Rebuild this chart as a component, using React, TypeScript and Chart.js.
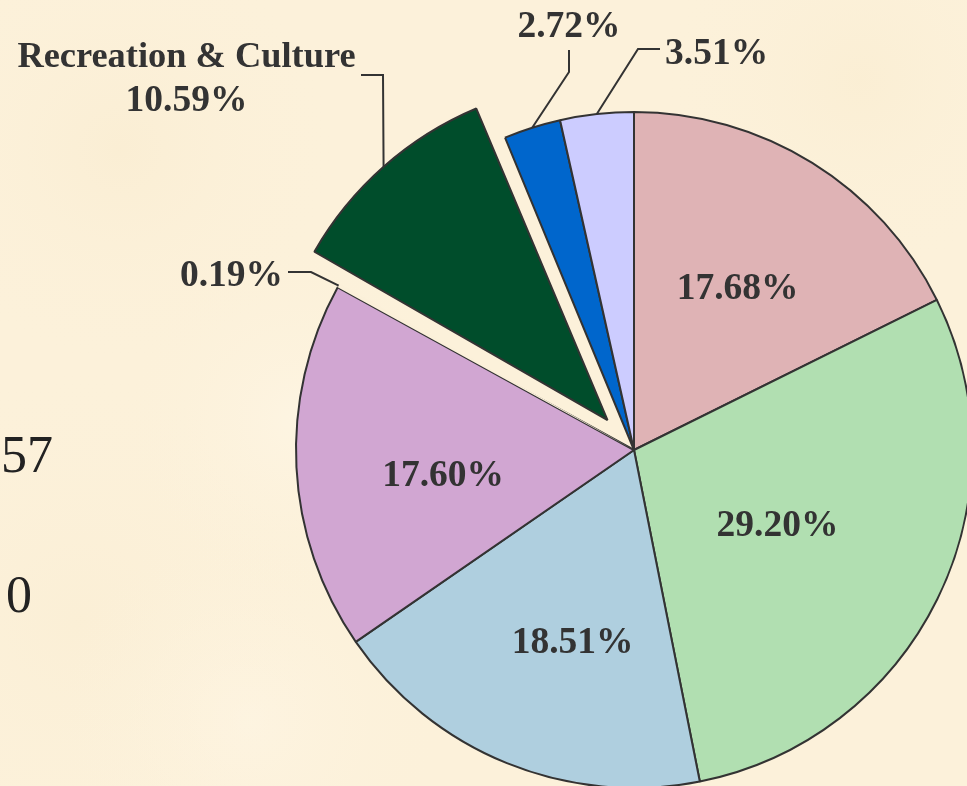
import React, { useEffect, useRef } from "react";
import { Chart, registerables } from "chart.js";

Chart.register(...registerables);

// ---- data ----
const categories = [
  "Category 1",
  "Category 2",
  "Category 3",
  "Category 4",
  "Category 5",
  "Recreation & Culture",
  "Category 7",
  "Category 8",
];
const values = [17.68, 29.2, 18.51, 17.6, 0.19, 10.59, 2.72, 3.51];
const valueLabels = ["17.68%", "29.20%", "18.51%", "17.60%", "0.19%", "10.59%", "2.72%", "3.51%"];
const sliceColors = ["#DFB3B5", "#B1DFB1", "#AFCFDF", "#D1A6D2", "#FBF0D9", "#004D2B", "#0066CC", "#CCCCFF"];
const sliceBorders = [2, 2, 2, 2, 0, 2, 2, 2];
const explodePx = [0, 0, 0, 0, 0, 40, 0, 0];
const sideTexts = ["57", "0"];

// ---- layout / style ----
const W = 967;
const H = 786;
const PIE_RADIUS = 338;
const TEXT_COLOR = "#333333";
const NUM_FONT = 'bold 37.5px "Liberation Serif", "Times New Roman", serif';
const NAME_FONT = 'bold 36.4px "Liberation Serif", "Times New Roman", serif';
const SIDE_FONT = '52px "Liberation Serif", "Times New Roman", serif';

// inside labels: slice index, angle (deg clockwise from top), fraction of radius
const insideLabels = [
  { i: 0, deg: 32.3, frac: 0.574 },
  { i: 1, deg: 117.1, frac: 0.477 },
  { i: 2, deg: 197.9, frac: 0.591 },
  { i: 3, deg: 263.1, frac: 0.569 },
];

// outside callouts: leader elbows and text anchors (text y = visual middle)
const callouts = [
  {
    i: 4,
    path: [[311, 272], [288, 272]],
    texts: [{ t: () => valueLabels[4], x: 283, y: 273, align: "right", font: NUM_FONT }],
  },
  {
    i: 5,
    path: [[383, 75], [361, 75]],
    texts: [
      { t: () => categories[5], x: 186.5, y: 54, align: "center", font: NAME_FONT },
      { t: () => valueLabels[5], x: 186.5, y: 98, align: "center", font: NUM_FONT },
    ],
  },
  {
    i: 6,
    path: [[569, 72], [569, 50]],
    texts: [{ t: () => valueLabels[6], x: 569, y: 24.5, align: "center", font: NUM_FONT }],
  },
  {
    i: 7,
    path: [[638, 49], [660, 49]],
    texts: [{ t: () => valueLabels[7], x: 665, y: 51, align: "left", font: NUM_FONT }],
  },
];

const sideTextPos = [
  { x: 1, y: 472 },
  { x: 6, y: 612 },
];

const backgroundPlugin = {
  id: "parchment",
  beforeDraw(chart: any) {
    const { ctx } = chart;
    ctx.save();
    ctx.fillStyle = "#FCF1DA";
    ctx.fillRect(0, 0, W, H);
    const blotches = [
      [120, 150, 220, "rgba(247,232,200,0.35)"],
      [80, 620, 260, "rgba(248,234,204,0.3)"],
      [860, 80, 200, "rgba(247,232,198,0.3)"],
      [300, 420, 180, "rgba(255,249,236,0.45)"],
      [250, 720, 200, "rgba(255,248,234,0.4)"],
    ];
    for (const [x, y, r, c] of blotches as any) {
      const g = ctx.createRadialGradient(x, y, 0, x, y, r);
      g.addColorStop(0, c);
      g.addColorStop(1, "rgba(252,241,218,0)");
      ctx.fillStyle = g;
      ctx.fillRect(0, 0, W, H);
    }
    ctx.restore();
  },
};

// keep exploded slice at the same radius as the rest (Chart.js grows it otherwise)
const explodeFixPlugin = {
  id: "explodeFix",
  afterDatasetUpdate(chart: any, args: any) {
    const meta = args.meta;
    meta.data.forEach((arc: any) => {
      const offset = (arc.options && arc.options.offset) || 0;
      if (!offset) return;
      const circ = arc.endAngle - arc.startAngle;
      const fix = 1 - Math.sin(Math.min(Math.PI, circ));
      arc.outerRadius = PIE_RADIUS - (offset / 4) * fix;
    });
  },
};

const labelPlugin = {
  id: "labels",
  afterDatasetsDraw(chart: any) {
    const { ctx } = chart;
    const meta = chart.getDatasetMeta(0);
    const arcs = meta.data;
    if (!arcs.length) return;
    const cx = arcs[0].x;
    const cy = arcs[0].y;
    ctx.save();
    ctx.fillStyle = TEXT_COLOR;
    ctx.strokeStyle = TEXT_COLOR;
    ctx.textBaseline = "alphabetic";
    const mid = 12.5;

    ctx.font = NUM_FONT;
    for (const l of insideLabels) {
      const a = (l.deg * Math.PI) / 180;
      const x = cx + l.frac * PIE_RADIUS * Math.sin(a);
      const y = cy - l.frac * PIE_RADIUS * Math.cos(a);
      ctx.textAlign = "center";
      ctx.fillText(valueLabels[l.i], x, y + mid);
    }

    ctx.lineWidth = 2;
    ctx.lineJoin = "miter";
    for (const c of callouts) {
      const arc = arcs[c.i];
      const m = (arc.startAngle + arc.endAngle) / 2;
      const r = PIE_RADIUS + explodePx[c.i];
      const ex = cx + Math.cos(m) * r;
      const ey = cy + Math.sin(m) * r;
      ctx.beginPath();
      ctx.moveTo(ex, ey);
      for (const [px, py] of c.path) ctx.lineTo(px, py);
      ctx.stroke();
      for (const t of c.texts) {
        ctx.font = t.font;
        ctx.textAlign = t.align;
        ctx.fillText(t.t(), t.x, t.y + mid);
      }
    }

    ctx.font = SIDE_FONT;
    ctx.fillStyle = "#222222";
    ctx.textAlign = "left";
    sideTexts.forEach((s, k) => {
      ctx.fillText(s, sideTextPos[k].x, sideTextPos[k].y);
    });
    ctx.restore();
  },
};

export default function App() {
  const ref = useRef<HTMLCanvasElement | null>(null);

  useEffect(() => {
    if (!ref.current) return;
    const chart = new Chart(ref.current, {
      type: "pie",
      data: {
        labels: categories,
        datasets: [
          {
            data: values,
            backgroundColor: sliceColors,
            borderColor: "#333333",
            borderWidth: sliceBorders,
            offset: explodePx.map((p) => p * 4),
            clip: false,
          } as any,
        ],
      },
      options: {
        animation: false,
        responsive: false,
        devicePixelRatio: 1,
        events: [],
        radius: PIE_RADIUS,
        rotation: 0,
        layout: { padding: { left: 301, top: 114, right: 0, bottom: 0 } },
        plugins: {
          legend: { display: false },
          tooltip: { enabled: false },
          title: { display: false },
        },
      } as any,
      plugins: [backgroundPlugin, explodeFixPlugin, labelPlugin],
    });
    return () => chart.destroy();
  }, []);

  return (
    <canvas
      ref={ref}
      width={W}
      height={H}
      style={{ position: "fixed", left: 0, top: 0, display: "block" }}
    />
  );
}
